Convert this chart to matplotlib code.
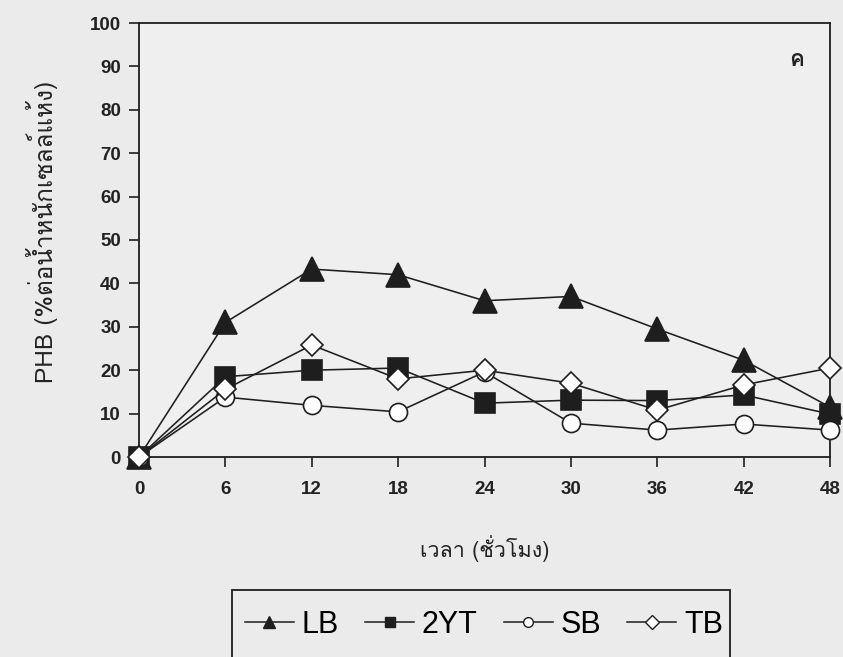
import matplotlib
matplotlib.use("Agg")
import matplotlib.pyplot as plt
from matplotlib import font_manager
from matplotlib.ft2font import FT2Font
from matplotlib.lines import Line2D
from matplotlib.patches import Rectangle

# Sampling times (hours) and PHB content (% of dry cell weight)
hours = [0, 6, 12, 18, 24, 30, 36, 42, 48]
phb_lb = [0, 31, 43.3, 42, 36, 37, 29.5, 22.3, 11.5]
phb_2yt = [0, 18.5, 20, 20.5, 12.4, 13.1, 13, 14.3, 9.9]
phb_sb = [0, 13.8, 11.9, 10.4, 19.6, 7.8, 6.2, 7.6, 6.2]
phb_tb = [0, 15.6, 25.8, 18, 20, 17, 10.8, 16.6, 20.5]
series_names = ["LB", "2YT", "SB", "TB"]
y_ticks = list(range(0, 101, 10))
panel_tag = "ค"
x_title = "เวลา (ชั่วโมง)"
y_title = "PHB (%ต่อน้ำหนักเซลล์แห้ง)"


def thai_family():
    """Return an installed family that has Thai glyphs, if any."""
    preferred = []
    others = []
    for f in font_manager.fontManager.ttflist:
        try:
            cmap = FT2Font(f.fname).get_charmap()
        except Exception:
            continue
        if 0x0E04 in cmap and 0x0E27 in cmap:
            if "Sans" in f.name or "Loma" in f.name or "Garuda" in f.name:
                preferred.append(f.name)
            else:
                others.append(f.name)
    found = preferred + others
    return found[0] if found else None


thai = thai_family()
text_fams = ([thai] if thai else []) + ["Liberation Sans", "DejaVu Sans"]
num_fams = ["Liberation Sans", "DejaVu Sans"]

W, H = 843, 657
ink = "#1e1e1e"
bg = "#ebebeb"
fig = plt.figure(figsize=(W / 100, H / 100), dpi=100, facecolor=bg)
ax = fig.add_axes([139 / W, 1 - 457 / H, (830 - 139) / W, (457 - 23) / H])
ax.set_facecolor("#efefef")

# marker styles: (marker, size, face colour)
styles = [("^", 17, ink), ("s", 14, ink), ("o", 13, "white"), ("D", 11, "white")]
series = [phb_lb, phb_2yt, phb_sb, phb_tb]

for z, (vals, (mk, ms, fc)) in enumerate(zip(series, styles)):
    ax.plot(hours, vals, color=ink, lw=1.15, marker=mk, markersize=ms,
            markerfacecolor=fc, markeredgecolor=ink, markeredgewidth=1.2,
            clip_on=False, zorder=3 + z)

ax.set_xlim(0, 48)
ax.set_ylim(0, 100)
ax.set_xticks(hours)
ax.set_yticks(y_ticks)
ax.tick_params(direction="out", length=7, width=1.2, color=ink, pad=6)
for lab in ax.get_xticklabels() + ax.get_yticklabels():
    lab.set_fontfamily(num_fams)
    lab.set_fontweight("bold")
    lab.set_fontsize(13.5)
    lab.set_color("#222222")
ax.tick_params(axis="x", pad=10)
for sp in ax.spines.values():
    sp.set_linewidth(1.3)
    sp.set_color(ink)

fig.text(797 / W, 1 - 60 / H, panel_tag, ha="center", va="center",
         fontsize=16, fontweight="bold", family=text_fams, color="#222222")

fig.text(485 / W, 1 - 549 / H, x_title, ha="center", va="center",
         fontsize=15.5, family=text_fams, color="#222222")
fig.text(42 / W, 1 - 232 / H, y_title, ha="center", va="center",
         rotation=90, fontsize=17.5, family=text_fams, color="#222222")

# legend keys use smaller markers than the plotted points
leg_sizes = [8, 7, 7, 7]
proxies = [
    Line2D([], [], color=ink, lw=1.1, marker=mk, markersize=ls,
           markerfacecolor=fc, markeredgecolor=ink, markeredgewidth=1.0)
    for (mk, ms, fc), ls in zip(styles, leg_sizes)
]
leg = fig.legend(
    proxies,
    series_names,
    loc="center left",
    bbox_to_anchor=(245 / W, 1 - 625 / H),
    borderaxespad=0,
    borderpad=0,
    ncol=4,
    frameon=False,
    prop={"family": num_fams, "size": 22},
    handlelength=1.6,
    handletextpad=0.26,
    columnspacing=0.85,
)
# legend box runs past the lower edge of the page
fig.patches.append(Rectangle((232 / W, 1 - 672 / H), (730 - 232) / W, (672 - 590) / H,
                             transform=fig.transFigure, fill=False,
                             edgecolor=ink, linewidth=1.3, zorder=0))

fig.savefig("out.png", dpi=100, facecolor=bg)
